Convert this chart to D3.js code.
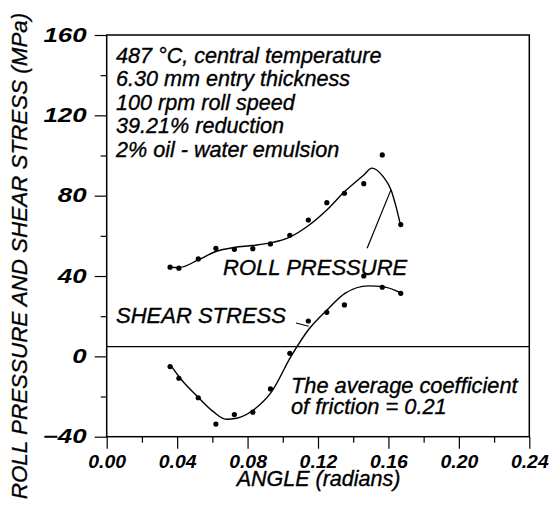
<!DOCTYPE html>
<html>
<head>
<meta charset="utf-8">
<script src="https://cdn.jsdelivr.net/npm/d3@7"></script>
<style>
  html, body { margin: 0; padding: 0; background: #fff; }
  svg { display: block; }
  text { font-family: "Liberation Sans", Arial, sans-serif; font-style: italic; fill: #000; }
</style>
</head>
<body>
<svg id="chart" width="549" height="512"></svg>
<script>
// Measured points along the roll gap
const angle        = [0.036, 0.041, 0.052, 0.062, 0.0725, 0.083, 0.093, 0.104, 0.1145, 0.125, 0.135, 0.146, 0.1565, 0.167];
const rollPressure = [44.4, 43.9, 48.5, 53.8, 53.3, 53.6, 56.0, 60.3, 67.9, 76.5, 81.2, 86.0, 100.3, 65.6];
const shearStress  = [-5.1, -10.9, -20.6, -33.7, -29.0, -27.8, -16.2, 1.5, 17.6, 21.9, 25.6, 40.0, 34.4, 31.4];

// Fitted curves
const rollFitAngle  = [0.036, 0.041, 0.052, 0.062, 0.0724, 0.083, 0.093, 0.104, 0.115, 0.125, 0.135, 0.146, 0.1505, 0.157, 0.1615, 0.1645, 0.1668];
const rollFit       = [44.4, 44.2, 48.0, 52.2, 54.2, 55.2, 56.5, 59.4, 65.4, 72.9, 81.9, 90.3, 93.7, 89.5, 82.8, 73.9, 65.6];
const shearFitAngle = [0.0369, 0.0426, 0.052, 0.0605, 0.0678, 0.0738, 0.0833, 0.0937, 0.1045, 0.1149, 0.1251, 0.1353, 0.1486, 0.1569, 0.167];
const shearFit      = [-5.1, -11.8, -20.4, -27.5, -31.3, -30.8, -26.7, -17.6, -0.3, 13.6, 23.1, 31.4, 35.1, 34.7, 31.6];

// Axis ticks
const xMajor = [0, 0.04, 0.08, 0.12, 0.16, 0.20, 0.24];
const xMinor = [0.02, 0.06, 0.10, 0.14, 0.18, 0.22];
const yMajor = [-40, 0, 40, 80, 120, 160];
const yMinor = [-20, 20, 60, 100, 140];
const refLevel = 4.8;

const conditions = [
  "487 \u00B0C, central temperature",
  "6.30 mm entry thickness",
  "100 rpm roll speed",
  "39.21% reduction",
  "2% oil - water emulsion"
];
const frictionNote = ["The average coefficient", "of friction = 0.21"];

// Leader lines: [angle, value] pairs from label to curve
const rollLeader  = [[0.1479, 53.8], [0.1614, 82.9]];
const shearLeader = [[0.1075, 16.6], [0.1147, 15.0]];

const svg = d3.select("#chart");
const x = d3.scaleLinear().domain([0, 0.24]).range([106.7, 529.3]);
const y = d3.scaleLinear().domain([-40, 160]).range([436.7, 35]);

// Minor ticks
svg.append("g").attr("transform", `translate(0,${y(-40)})`)
  .call(d3.axisBottom(x).tickValues(xMinor).tickSize(6).tickFormat(""))
  .call(g => g.select(".domain").remove());
svg.append("g").attr("transform", `translate(${x(0)},0)`)
  .call(d3.axisLeft(y).tickValues(yMinor).tickSize(6).tickFormat(""))
  .call(g => g.select(".domain").remove());

// Major ticks with labels
const xAxis = svg.append("g").attr("transform", `translate(0,${y(-40)})`)
  .call(d3.axisBottom(x).tickValues(xMajor).tickSize(12).tickPadding(7).tickFormat(d3.format(".2f")))
  .call(g => g.select(".domain").remove());
const yAxis = svg.append("g").attr("transform", `translate(${x(0)},0)`)
  .call(d3.axisLeft(y).tickValues(yMajor).tickSize(12).tickPadding(7).tickFormat(d3.format("d")))
  .call(g => g.select(".domain").remove());

svg.selectAll(".tick line").attr("stroke", "#000").attr("stroke-width", 1.2);
[xAxis, yAxis].forEach(a => a.selectAll("text")
  .attr("font-family", "'Liberation Sans', Arial, sans-serif")
  .attr("font-weight", "bold").attr("font-style", "italic"));
// x labels slightly widened, y labels wider still
xAxis.selectAll("text").attr("font-size", 18).attr("transform", "scale(1.08,1)");
const ySx = 1.33;
yAxis.selectAll("text").attr("font-size", 19.5)
  .attr("x", -20 / ySx)
  .attr("transform", `scale(${ySx},1)`);

// Frame
svg.append("rect")
  .attr("x", x(0)).attr("y", y(160))
  .attr("width", x(0.24) - x(0)).attr("height", y(-40) - y(160))
  .attr("fill", "none").attr("stroke", "#000").attr("stroke-width", 1.5);

// Horizontal reference line
svg.append("line")
  .attr("x1", x(0)).attr("x2", x(0.24))
  .attr("y1", y(refLevel)).attr("y2", y(refLevel))
  .attr("stroke", "#000").attr("stroke-width", 1.3);

// Fitted curves
const line = d3.line().x(d => x(d[0])).y(d => y(d[1])).curve(d3.curveMonotoneX);
svg.append("path")
  .datum(rollFitAngle.map((a, i) => [a, rollFit[i]]))
  .attr("d", line).attr("fill", "none").attr("stroke", "#000").attr("stroke-width", 1.4);
svg.append("path")
  .datum(shearFitAngle.map((a, i) => [a, shearFit[i]]))
  .attr("d", line).attr("fill", "none").attr("stroke", "#000").attr("stroke-width", 1.4);

// Measured points
svg.append("g").selectAll("circle")
  .data(angle.map((a, i) => [a, rollPressure[i]]))
  .join("circle").attr("cx", d => x(d[0])).attr("cy", d => y(d[1])).attr("r", 2.6).attr("fill", "#000");
svg.append("g").selectAll("circle")
  .data(angle.map((a, i) => [a, shearStress[i]]))
  .join("circle").attr("cx", d => x(d[0])).attr("cy", d => y(d[1])).attr("r", 2.6).attr("fill", "#000");

// Leader lines
const straight = d3.line().x(d => x(d[0])).y(d => y(d[1]));
[rollLeader, shearLeader].forEach(l =>
  svg.append("path").attr("d", straight(l)).attr("fill", "none").attr("stroke", "#000").attr("stroke-width", 1.2));

// Text labels
function label(txt, px, py, size, anchor) {
  return svg.append("text").attr("x", px).attr("y", py)
    .attr("font-size", size).attr("text-anchor", anchor || "start")
    .attr("stroke", "#000").attr("stroke-width", 0.35)
    .text(txt);
}
conditions.forEach((t, i) => label(t, 116, 62.5 + i * 23.5, 21.6));
label("ROLL PRESSURE", 223, 275, 22);
label("SHEAR STRESS", 116, 323, 22);
frictionNote.forEach((t, i) => label(t, 291, 392.7 + i * 21, 21.8));

label("ANGLE (radians)", 318.5, 485.5, 21.5, "middle");
svg.append("text")
  .attr("transform", "translate(27,256) rotate(-90)")
  .attr("text-anchor", "middle").attr("font-size", 22.4)
  .attr("stroke", "#000").attr("stroke-width", 0.3)
  .text("ROLL PRESSURE AND SHEAR STRESS (MPa)");
</script>
</body>
</html>
